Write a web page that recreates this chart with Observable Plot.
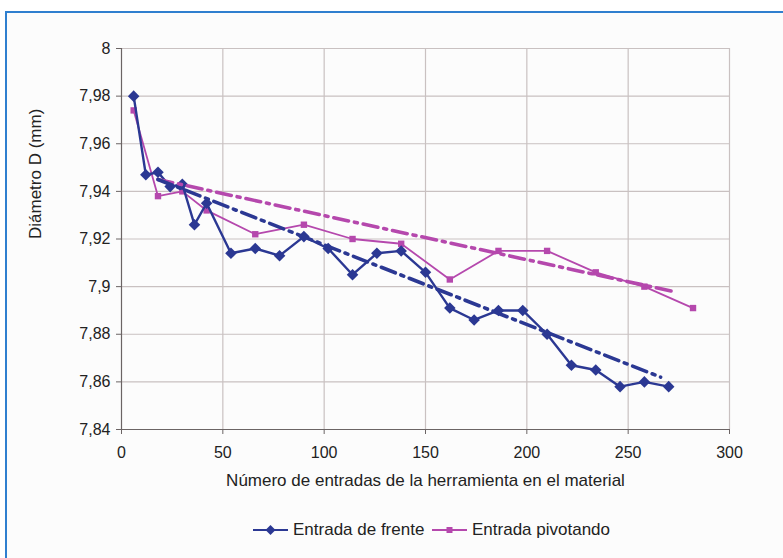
<!DOCTYPE html>
<html>
<head>
<meta charset="utf-8">
<script src="https://cdn.jsdelivr.net/npm/d3@7"></script>
<script src="https://cdn.jsdelivr.net/npm/@observablehq/plot@0.6"></script>
<style>
  html, body { margin: 0; padding: 0; background: #fff; }
  #wrap { position: relative; width: 783px; height: 558px; overflow: hidden; font-family: "Liberation Sans", Arial, sans-serif; }
  #frame { position: absolute; left: 5px; top: 11px; width: 820px; height: 600px; border: 2px solid #2f7fcf; background: #fcfcfc; }
  #chart { position: absolute; left: 0; top: 0; }
  #legend { position: absolute; left: 0; top: 518px; width: 783px; height: 24px; font-size: 17px; color: #222; }
  .item { position: absolute; top: 0; display: flex; align-items: center; height: 24px; }
  .item svg { margin-right: 5px; }
</style>
</head>
<body>
<div id="wrap">
  <div id="frame"></div>
  <div id="chart"></div>
  <div id="legend"></div>
</div>
<script>
// ---- data ----
const frenteX = [6, 12, 18, 24, 30, 36, 42, 54, 66, 78, 90, 102, 114, 126, 138, 150, 162, 174, 186, 198, 210, 222, 234, 246, 258, 270];
const frenteY = [7.980, 7.947, 7.948, 7.942, 7.943, 7.926, 7.935, 7.914, 7.916, 7.913, 7.921, 7.916, 7.905, 7.914, 7.915, 7.906, 7.891, 7.886, 7.890, 7.890, 7.880, 7.867, 7.865, 7.858, 7.860, 7.858];
const pivotX = [6, 18, 30, 42, 66, 90, 114, 138, 162, 186, 210, 234, 258, 282];
const pivotY = [7.974, 7.938, 7.940, 7.932, 7.922, 7.926, 7.920, 7.918, 7.903, 7.915, 7.915, 7.906, 7.900, 7.891];
const trendFrenteX = [18, 266];
const trendFrenteY = [7.945, 7.862];
const trendPivotX = [18, 272];
const trendPivotY = [7.945, 7.898];
const xTicks = [0, 50, 100, 150, 200, 250, 300];
const yTicks = [7.84, 7.86, 7.88, 7.90, 7.92, 7.94, 7.96, 7.98, 8.00];
const seriesNames = ["Entrada de frente", "Entrada pivotando"];
const xTitle = "Número de entradas de la herramienta en el material";
const yTitle = "Diámetro D (mm)";

const blue = "#2b3893";
const magenta = "#b548ad";
const zip = (xs, ys) => xs.map((x, i) => ({x, y: ys[i]}));
const frente = zip(frenteX, frenteY);
const pivot = zip(pivotX, pivotY);
const tFrente = zip(trendFrenteX, trendFrenteY);
const tPivot = zip(trendPivotX, trendPivotY);
const fmt = d => String(+d.toFixed(2)).replace(".", ",");

const plot = Plot.plot({
  width: 783,
  height: 510,
  marginLeft: 121,
  marginRight: 54,
  marginTop: 48,
  marginBottom: 81,
  style: {fontSize: "16px", fontFamily: "'Liberation Sans', Arial, sans-serif", color: "#222", background: "transparent"},
  x: {domain: [0, 300]},
  y: {domain: [7.84, 8.0]},
  marks: [
    Plot.gridX(xTicks.filter(d => d > 0), {stroke: "#c9c1c1", strokeOpacity: 1, strokeWidth: 1.2}),
    Plot.gridY(yTicks.filter(d => d > 7.84), {stroke: "#c9c1c1", strokeOpacity: 1, strokeWidth: 1.2}),
    Plot.ruleX([0], {stroke: "#6b6464", strokeWidth: 1.2}),
    Plot.ruleY([7.84], {stroke: "#6b6464", strokeWidth: 1.2}),
    Plot.axisX({ticks: xTicks, tickSize: 5, tickPadding: 12, stroke: "#6b6464", label: null, fontSize: 16}),
    Plot.axisY({ticks: yTicks, tickSize: 5, tickPadding: 6, stroke: "#6b6464", tickFormat: fmt, label: null, fontSize: 16}),
    Plot.text([xTitle], {text: d => d, frameAnchor: "bottom", dy: 51, lineAnchor: "middle", fontSize: 17, fill: "#222"}),
    Plot.text([yTitle], {text: d => d, frameAnchor: "left", dx: -86, rotate: -90, lineAnchor: "middle", fontSize: 17, fill: "#222"}),
    Plot.line(pivot, {x: "x", y: "y", stroke: magenta, strokeWidth: 1.8}),
    Plot.dot(pivot, {x: "x", y: "y", symbol: "square", r: 3.6, fill: magenta, stroke: "none"}),
    Plot.line(frente, {x: "x", y: "y", stroke: blue, strokeWidth: 2.4}),
    Plot.dot(frente, {x: "x", y: "y", symbol: "diamond2", r: 5.2, fill: blue, stroke: "none"}),
    Plot.line(tPivot, {x: "x", y: "y", stroke: magenta, strokeWidth: 3.6, strokeDasharray: "15,6,3,6"}),
    Plot.line(tFrente, {x: "x", y: "y", stroke: blue, strokeWidth: 3.6, strokeDasharray: "15,6,3,6"})
  ]
});
document.getElementById("chart").appendChild(plot);

// legend
const legend = document.getElementById("legend");
const items = [
  {name: seriesNames[0], color: blue, shape: "diamond", left: 253},
  {name: seriesNames[1], color: magenta, shape: "square", left: 432}
];
for (const it of items) {
  const div = document.createElement("div");
  div.className = "item";
  div.style.left = it.left + "px";
  const marker = it.shape === "diamond"
    ? `<path d="M17.5,7 L22.5,12 L17.5,17 L12.5,12 Z" fill="${it.color}"/>`
    : `<rect x="14.5" y="9" width="6" height="6" fill="${it.color}"/>`;
  div.innerHTML = `<svg width="35" height="24"><line x1="0" y1="12" x2="35" y2="12" stroke="${it.color}" stroke-width="${it.shape === "diamond" ? 2.2 : 1.8}"/>${marker}</svg><span>${it.name}</span>`;
  legend.appendChild(div);
}
</script>
</body>
</html>
